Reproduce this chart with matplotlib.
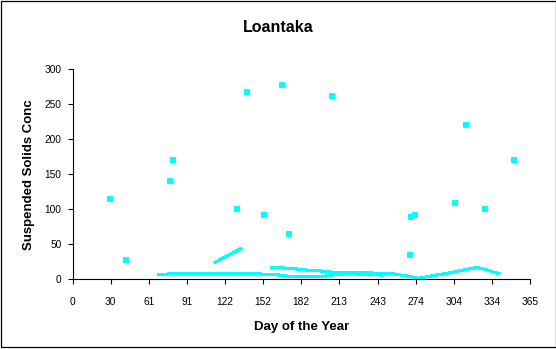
import numpy as np
import matplotlib
matplotlib.use("Agg")
import matplotlib.pyplot as plt
from matplotlib.patches import Rectangle

plt.rcParams["font.family"] = ["Liberation Sans", "DejaVu Sans"]

# Measured suspended solids (individual samples)
sample_days = [30, 43, 78, 80, 131, 139, 153, 167, 173, 207, 269, 270, 273, 305, 314, 329, 352]
sample_conc = [115, 28, 141, 170, 101, 267, 92, 277, 65, 262, 35, 89, 92, 109, 221, 101, 170]

# Smoothed background series
trend_a_days = [68, 80, 115, 145, 150, 165, 170, 184, 199, 207, 219, 240, 247]
trend_a_conc = [6.6, 8, 8.5, 8, 7.6, 6.1, 4.7, 3.8, 3.8, 6, 8, 7, 6]

trend_b_days = [158, 174, 186, 198, 208, 222, 232, 245, 254, 262, 270, 276, 286, 299, 312, 323, 331, 341]
trend_b_conc = [17, 15.7, 13.3, 11.9, 10, 9, 9.5, 8.5, 8.5, 6, 3.8, 1.4, 4.7, 8.5, 13.3, 17, 13.3, 7.6]

trend_c_days = [113, 135]
trend_c_conc = [23.7, 44.7]

x_tick_labels = ["0", "30", "61", "91", "122", "152", "182", "213", "243", "274", "304", "334", "365"]
y_ticks = [0, 50, 100, 150, 200, 250, 300]

cyan = "#00ffff"

fig = plt.figure(figsize=(5.56, 3.49), dpi=100)
ax = fig.add_axes([72.5 / 556, 1 - 279.3 / 349, (530 - 72.5) / 556, (279.3 - 69.3) / 349])

for d, c in [(trend_a_days, trend_a_conc), (trend_b_days, trend_b_conc), (trend_c_days, trend_c_conc)]:
    ax.plot(d, c, color=cyan, linewidth=1.5, antialiased=False, solid_capstyle="butt")

ax.plot(sample_days, sample_conc, linestyle="none", marker="s", markersize=4.4,
        markerfacecolor=cyan, markeredgewidth=0, antialiased=False)

ax.set_xlim(0, 365)
ax.set_ylim(0, 300)
ax.set_xticks(np.linspace(0, 365, len(x_tick_labels)))
ax.set_xticklabels(x_tick_labels)
ax.set_yticks(y_ticks)
ax.tick_params(axis="both", direction="out", length=3.5, width=0.8, labelsize=7.3, colors="black")
ax.tick_params(axis="x", pad=9)
ax.tick_params(axis="y", pad=4.5)

for side in ["top", "right"]:
    ax.spines[side].set_visible(False)
for side in ["left", "bottom"]:
    ax.spines[side].set_linewidth(0.8)

ax.set_xlabel("Day of the Year", fontsize=9.5, fontweight="bold", labelpad=10)
ax.set_ylabel("Suspended Solids Conc", fontsize=9.5, fontweight="bold", labelpad=7)
fig.text(0.5, 1 - 27 / 349, "Loantaka", ha="center", va="center", fontsize=11.5, fontweight="bold")

# frame around the whole chart
fig.patches.append(Rectangle((0.5 / 556, 2 / 349), 555 / 556, 346.5 / 349, transform=fig.transFigure,
                             fill=False, edgecolor="black", linewidth=0.9))

fig.savefig("out.png", dpi=100)
